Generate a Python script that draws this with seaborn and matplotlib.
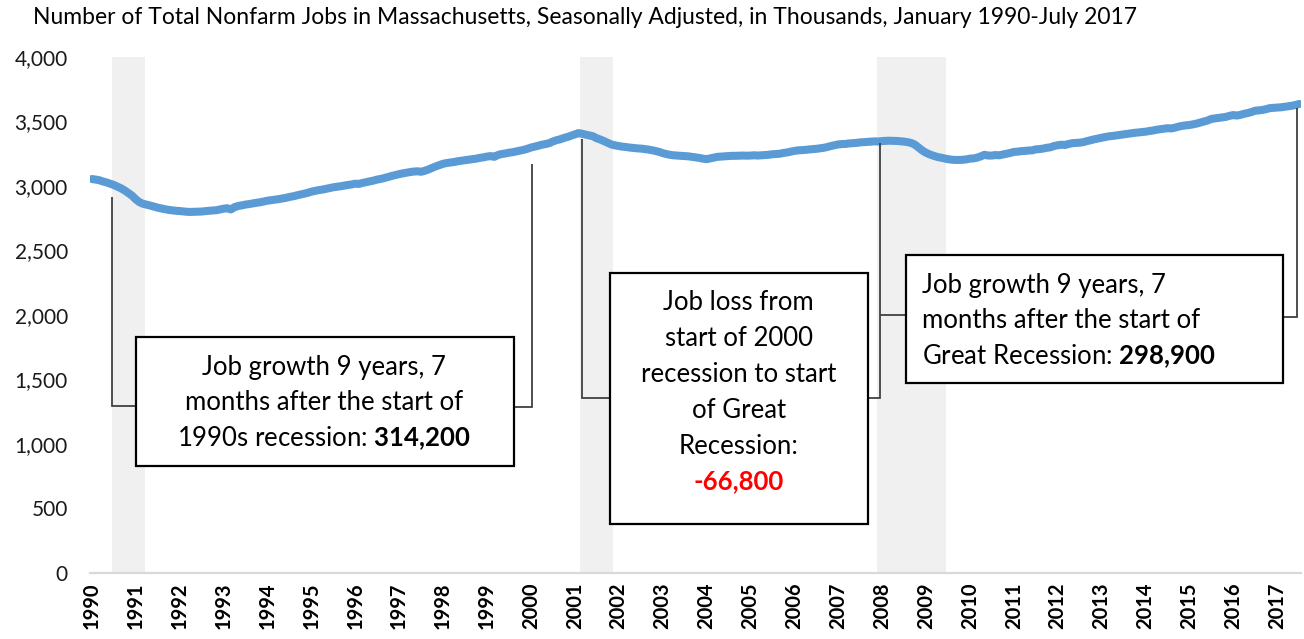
import numpy as np
import pandas as pd
import matplotlib
matplotlib.use("Agg")
import matplotlib.pyplot as plt
import seaborn as sns
from matplotlib.patches import Rectangle

# ---------------- data (thousands of jobs, monthly, Jan 1990 - Jul 2017) ----------------
years = list(range(1990, 2018))
jobs = [
    3054, 3050, 3045, 3035, 3028, 3018, 3008, 2995, 2982, 2965, 2945, 2925,  # 1990
    2897, 2875, 2862, 2855, 2848, 2840, 2832, 2826, 2820, 2815, 2811, 2808,  # 1991
    2806, 2803, 2800, 2799, 2800, 2801, 2802, 2805, 2808, 2810, 2812, 2818,  # 1992
    2824, 2828, 2818, 2836, 2845, 2850, 2856, 2860, 2865, 2870, 2874, 2880,  # 1993
    2886, 2890, 2894, 2898, 2903, 2908, 2915, 2920, 2927, 2934, 2940, 2947,  # 1994
    2956, 2962, 2968, 2972, 2978, 2984, 2990, 2994, 2998, 3003, 3008, 3012,  # 1995
    3018, 3016, 3024, 3030, 3036, 3042, 3050, 3055, 3062, 3070, 3078, 3085,  # 1996
    3092, 3098, 3103, 3108, 3112, 3114, 3110, 3118, 3128, 3140, 3152, 3162,  # 1997
    3172, 3178, 3182, 3186, 3192, 3196, 3200, 3204, 3208, 3212, 3218, 3222,  # 1998
    3228, 3232, 3226, 3240, 3248, 3252, 3258, 3262, 3268, 3274, 3280, 3288,  # 1999
    3298, 3305, 3312, 3320, 3325, 3332, 3345, 3355, 3362, 3372, 3380, 3390,  # 2000
    3400, 3410, 3405, 3398, 3392, 3385, 3370, 3360, 3348, 3335, 3322, 3315,  # 2001
    3310, 3305, 3302, 3298, 3295, 3292, 3290, 3287, 3283, 3278, 3272, 3265,  # 2002
    3255, 3248, 3242, 3238, 3236, 3234, 3232, 3230, 3226, 3222, 3218, 3212,  # 2003
    3208, 3214, 3220, 3226, 3228, 3230, 3232, 3234, 3234, 3235, 3236, 3235,  # 2004
    3236, 3238, 3236, 3238, 3240, 3242, 3246, 3248, 3250, 3256, 3260, 3266,  # 2005
    3272, 3276, 3278, 3280, 3283, 3286, 3288, 3292, 3296, 3302, 3310, 3316,  # 2006
    3322, 3325, 3326, 3330, 3332, 3334, 3338, 3340, 3342, 3344, 3346, 3345,  # 2007
    3348, 3350, 3351, 3350, 3349, 3347, 3344, 3340, 3333, 3320, 3298, 3275,  # 2008
    3258, 3245, 3235, 3226, 3220, 3214, 3208, 3204, 3202, 3202, 3203, 3206,  # 2009
    3212, 3214, 3220, 3230, 3242, 3236, 3236, 3240, 3238, 3244, 3250, 3256,  # 2010
    3264, 3266, 3270, 3272, 3275, 3276, 3284, 3286, 3290, 3296, 3300, 3310,  # 2011
    3316, 3320, 3318, 3326, 3332, 3334, 3336, 3340, 3348, 3355, 3362, 3368,  # 2012
    3374, 3380, 3385, 3388, 3392, 3396, 3400, 3404, 3408, 3412, 3415, 3418,  # 2013
    3421, 3426, 3430, 3436, 3440, 3444, 3448, 3446, 3452, 3460, 3466, 3470,  # 2014
    3473, 3478, 3484, 3492, 3500, 3508, 3520, 3524, 3528, 3532, 3536, 3544,  # 2015
    3550, 3546, 3552, 3560, 3566, 3574, 3584, 3586, 3590, 3596, 3604, 3606,  # 2016
    3608, 3610, 3614, 3618, 3622, 3628, 3636,                                # 2017
]
# recession periods (first month, last month)
recessions = [((1990, 7), (1991, 3)), ((2001, 3), (2001, 11)), ((2007, 12), (2009, 6))]
y_ticks = [0, 500, 1000, 1500, 2000, 2500, 3000, 3500, 4000]

title = ("Number of Total Nonfarm Jobs in Massachusetts, Seasonally Adjusted, "
         "in Thousands, January 1990-July 2017")
growth_1990s = "314,200"
loss_2000s = "-66,800"
growth_great = "298,900"

# ---------------- styling ----------------
sns.set_theme(style="white")
plt.rcParams["font.family"] = ["Lato", "DejaVu Sans"]
plt.rcParams["mathtext.fontset"] = "custom"
plt.rcParams["mathtext.rm"] = "Lato"
plt.rcParams["mathtext.bf"] = "Lato:bold"

W, H = 1304, 639
fig = plt.figure(figsize=(W / 100, H / 100), dpi=100)
ax = fig.add_axes([90 / W, (H - 573) / H, 1211 / W, 516 / H])

def midx(y, m):
    return (y - 1990) * 12 + (m - 1)

df = pd.DataFrame({"month": np.arange(len(jobs)), "jobs": jobs})

for (s, e) in recessions:
    ax.axvspan(midx(*s) - 0.5, midx(*e) + 0.5, color="#F0F0F0", lw=0, zorder=0)

sns.lineplot(data=df, x="month", y="jobs", ax=ax, color="#5B9BD5", lw=5.8,
             solid_capstyle="round", solid_joinstyle="round", zorder=3)

ax.set_xlim(-0.5, len(jobs) - 0.5)
ax.set_ylim(0, 4000)
ax.set_xlabel("")
ax.set_ylabel("")
ax.set_xticks([midx(y, 1) for y in years])
ax.set_xticklabels([str(y) for y in years], rotation=90, fontweight="bold",
                   fontsize=14.5, color="#000000")
ax.set_yticks(y_ticks)
ax.set_yticklabels([f"{v:,}" for v in y_ticks], fontsize=15, color="#1a1a1a")
ax.tick_params(axis="x", length=0, pad=7)
ax.tick_params(axis="y", length=0, pad=16)
for sp in ["left", "right", "top"]:
    ax.spines[sp].set_visible(False)
ax.spines["bottom"].set_color("#D9D9D9")
ax.spines["bottom"].set_linewidth(1.6)
ax.grid(False)

fig.text(33 / W, 1 - 18 / H, title, ha="left", va="center", fontsize=16.5, color="#000000")

# ---------------- annotation boxes & brackets (data coords) ----------------
def px2m(px):
    return (px - 92) / 3.66

def py2v(py):
    return (573 - py) / 0.129

bc = "#404040"
blw = 1.3

def bracket(xs, ys):
    ax.plot(xs, ys, color=bc, lw=blw, zorder=4, solid_joinstyle="miter",
            solid_capstyle="butt")

def box(x0, x1, ytop, ybot):
    ax.add_patch(Rectangle((px2m(x0), py2v(ybot)), px2m(x1) - px2m(x0),
                           py2v(ytop) - py2v(ybot), fc="white", ec="#000000",
                           lw=1.6, zorder=5))

fs = 18.5
# Box 1
box(136, 514, 337, 466)
bracket([px2m(136), px2m(112), px2m(112)], [py2v(406), py2v(406), py2v(197)])
bracket([px2m(514), px2m(532), px2m(532)], [py2v(407), py2v(407), py2v(164)])
for txt, py in [("Job growth 9 years, 7", 367), ("months after the start of", 402),
                ("1990s recession: $\\mathbf{" + growth_1990s.replace(",", "{,}") + "}$", 438)]:
    ax.text(px2m(324), py2v(py), txt, ha="center", va="center", fontsize=fs,
            color="#000000", zorder=6)

# Box 2
box(610, 868, 273, 524)
bracket([px2m(610), px2m(582), px2m(582)], [py2v(398), py2v(398), py2v(139)])
bracket([px2m(868), px2m(880), px2m(880)], [py2v(398), py2v(398), py2v(143)])
for txt, py in [("Job loss from", 303), ("start of 2000", 338), ("recession to start", 375),
                ("of Great", 410), ("Recession:", 446)]:
    ax.text(px2m(739), py2v(py), txt, ha="center", va="center", fontsize=fs,
            color="#000000", zorder=6)
ax.text(px2m(739), py2v(481), loss_2000s, ha="center", va="center", fontsize=fs,
        color="#FF0000", fontweight="bold", zorder=6)

# Box 3
box(906, 1284, 255, 383)
bracket([px2m(880), px2m(906)], [py2v(315), py2v(315)])
bracket([px2m(1284), px2m(1298), px2m(1298)], [py2v(317), py2v(317), py2v(108)])
for txt, py in [("Job growth 9 years, 7", 285), ("months after the start of", 321),
                ("Great Recession: $\\mathbf{" + growth_great.replace(",", "{,}") + "}$", 356)]:
    ax.text(px2m(922), py2v(py), txt, ha="left", va="center", fontsize=fs,
            color="#000000", zorder=6)

fig.savefig("out.png", dpi=100)
